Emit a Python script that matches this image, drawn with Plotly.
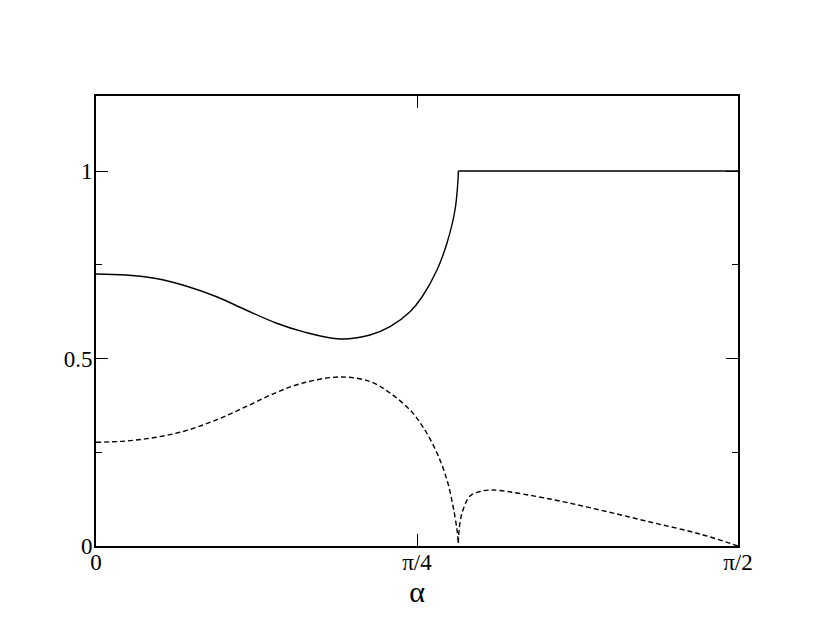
import math
import plotly.graph_objects as go

# alpha values (radians) and curve values
alpha_solid = [0.0, 0.0734, 0.1468, 0.2202, 0.2936, 0.3670, 0.4404, 0.5065, 0.5970,
               0.6704, 0.7193, 0.7683, 0.7976, 0.8343, 0.8588, 0.8784, 0.8857, 0.8865, 1.5708]
value_solid = [0.7253, 0.7227, 0.7133, 0.6933, 0.6653, 0.6293, 0.5947, 0.5715, 0.552,
               0.5627, 0.5848, 0.6248, 0.664, 0.736, 0.808, 0.896, 0.976, 1.0, 1.0]

alpha_dashed = [0.0, 0.0734, 0.1468, 0.2202, 0.2936, 0.3670, 0.4404, 0.5065, 0.5970,
                0.6704, 0.7193, 0.7683, 0.8001, 0.8343, 0.8588, 0.8735, 0.8833, 0.8865,
                0.8884, 0.8955, 0.9150, 0.9395, 0.9639, 0.9884, 1.1107, 1.2331, 1.3554,
                1.4777, 1.5708]
value_dashed = [0.2765, 0.28, 0.29, 0.3075, 0.336, 0.3715, 0.4089, 0.4347, 0.4507,
                0.4387, 0.408, 0.3627, 0.3173, 0.248, 0.176, 0.1067, 0.0427, 0.008,
                0.043, 0.088, 0.1333, 0.1453, 0.1493, 0.148, 0.1253, 0.096, 0.064,
                0.032, 0.0]

x_tickvals = [0, math.pi / 4, math.pi / 2]
x_ticktext = ["0", "π/4", "π/2"]
y_tickvals = [0, 0.5, 1]
y_ticktext = ["0", "0.5", "1"]
y_minor = [0.25, 0.75]

FONT = "Liberation Serif"
LW = 1.4

fig = go.Figure()
# solid: curved part (smooth) + flat part
fig.add_trace(go.Scatter(x=alpha_solid[:-1], y=value_solid[:-1], mode="lines",
                         line=dict(color="black", width=LW, shape="spline", smoothing=1),
                         showlegend=False))
fig.add_trace(go.Scatter(x=alpha_solid[-2:], y=value_solid[-2:], mode="lines",
                         line=dict(color="black", width=LW), showlegend=False))
# dashed: left branch up to the cusp, right branch after it
cusp = 17
fig.add_trace(go.Scatter(x=alpha_dashed[:cusp + 1], y=value_dashed[:cusp + 1], mode="lines",
                         line=dict(color="black", width=LW, dash="5px,3px", shape="spline", smoothing=1),
                         showlegend=False))
fig.add_trace(go.Scatter(x=alpha_dashed[cusp:], y=value_dashed[cusp:], mode="lines",
                         line=dict(color="black", width=LW, dash="5px,3px", shape="spline", smoothing=1),
                         showlegend=False))

fig.update_layout(
    width=830, height=642,
    margin=dict(l=88, r=100, t=88, b=104),
    paper_bgcolor="white", plot_bgcolor="white",
    font=dict(family=FONT, size=23, color="black"),
    xaxis=dict(
        range=[0, math.pi / 2], tickvals=x_tickvals, ticktext=x_ticktext,
        ticks="inside", ticklen=12, tickwidth=1.4, tickcolor="black",
        showline=True, linecolor="black", linewidth=1.6, mirror="allticks",
        showgrid=False, zeroline=False,
        ticklabelstandoff=-5,
        title=dict(text="α", font=dict(size=30, family=FONT), standoff=6),
        tickfont=dict(size=23, family=FONT),
    ),
    yaxis=dict(
        range=[0, 1.2], tickvals=y_tickvals, ticktext=y_ticktext,
        ticks="inside", ticklen=12, tickwidth=1.4, tickcolor="black",
        showline=True, linecolor="black", linewidth=1.6, mirror="allticks",
        showgrid=False, zeroline=False,
        ticklabelstandoff=-3,
        minor=dict(tickvals=y_minor, ticks="inside", ticklen=6, tickwidth=1.4,
                   tickcolor="black", showgrid=False),
        tickfont=dict(size=23, family=FONT),
    ),
)

fig.write_html("out.html")
